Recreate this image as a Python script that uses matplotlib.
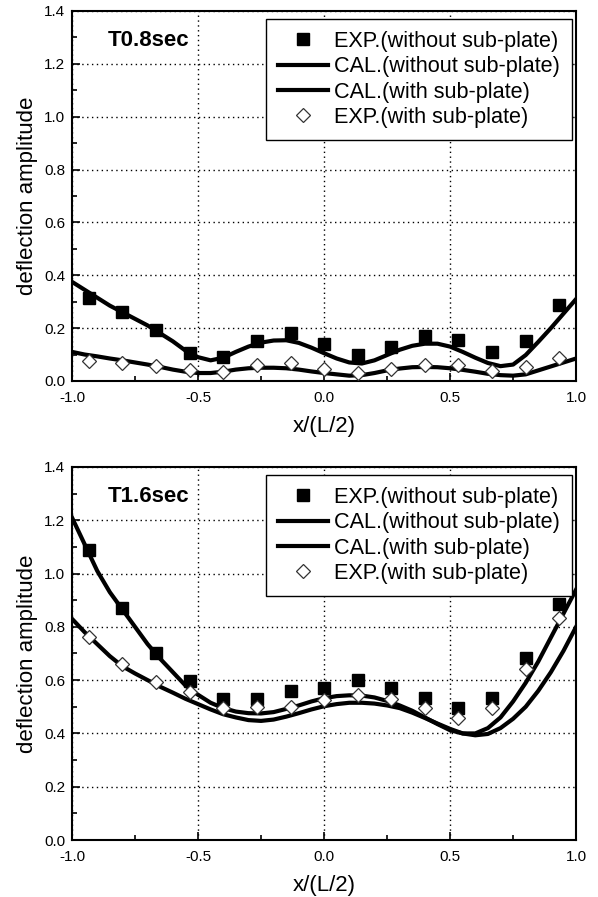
import matplotlib
matplotlib.use("Agg")
import matplotlib.pyplot as plt
from matplotlib.ticker import MultipleLocator, FixedLocator

plt.rcParams["font.family"] = ["Liberation Sans", "DejaVu Sans"]

# ---- data -------------------------------------------------------------
exp_x = [-0.933, -0.8, -0.667, -0.533, -0.4, -0.267, -0.133, 0.0,
         0.133, 0.267, 0.4, 0.533, 0.667, 0.8, 0.933]

cal_x = [-1.00, -0.95, -0.90, -0.85, -0.80, -0.75, -0.70, -0.65, -0.60,
         -0.55, -0.50, -0.45, -0.40, -0.35, -0.30, -0.25, -0.20, -0.15,
         -0.10, -0.05, 0.00, 0.05, 0.10, 0.15, 0.20, 0.25, 0.30, 0.35,
         0.40, 0.45, 0.50, 0.55, 0.60, 0.65, 0.70, 0.75, 0.80, 0.85,
         0.90, 0.95, 1.00]

# T = 0.8 sec
t08_exp_without = [0.312, 0.262, 0.194, 0.106, 0.091, 0.150, 0.181, 0.140,
                   0.100, 0.129, 0.171, 0.154, 0.109, 0.152, 0.287]
t08_exp_with = [0.075, 0.069, 0.056, 0.040, 0.035, 0.060, 0.069, 0.046,
                0.031, 0.044, 0.062, 0.060, 0.037, 0.054, 0.087]
t08_cal_without = [0.375, 0.345, 0.315, 0.285, 0.260, 0.235, 0.210, 0.180,
                   0.150, 0.115, 0.090, 0.078, 0.088, 0.110, 0.130, 0.145,
                   0.153, 0.154, 0.144, 0.126, 0.105, 0.085, 0.070, 0.066,
                   0.078, 0.098, 0.118, 0.133, 0.141, 0.141, 0.130, 0.110,
                   0.088, 0.068, 0.056, 0.062, 0.098, 0.148, 0.200, 0.255,
                   0.310]
t08_cal_with = [0.110, 0.100, 0.093, 0.085, 0.078, 0.070, 0.062, 0.053,
                0.043, 0.035, 0.030, 0.030, 0.035, 0.043, 0.048, 0.050,
                0.050, 0.048, 0.043, 0.036, 0.030, 0.025, 0.020, 0.022,
                0.030, 0.040, 0.047, 0.052, 0.053, 0.052, 0.048, 0.042,
                0.035, 0.027, 0.022, 0.020, 0.025, 0.040, 0.055, 0.070,
                0.085]

# T = 1.6 sec
t16_exp_without = [1.090, 0.871, 0.700, 0.598, 0.528, 0.528, 0.559, 0.569,
                   0.599, 0.571, 0.534, 0.496, 0.534, 0.684, 0.884]
t16_exp_with = [0.762, 0.659, 0.594, 0.555, 0.496, 0.499, 0.499, 0.525,
                0.546, 0.530, 0.496, 0.457, 0.496, 0.640, 0.834]
t16_cal_without = [1.210, 1.110, 1.010, 0.930, 0.865, 0.800, 0.735, 0.680,
                   0.630, 0.580, 0.545, 0.515, 0.495, 0.482, 0.476, 0.475,
                   0.480, 0.492, 0.505, 0.520, 0.532, 0.540, 0.543, 0.542,
                   0.535, 0.522, 0.505, 0.485, 0.460, 0.435, 0.412, 0.400,
                   0.400, 0.420, 0.460, 0.520, 0.590, 0.670, 0.760, 0.850,
                   0.940]
t16_cal_with = [0.830, 0.780, 0.735, 0.690, 0.652, 0.625, 0.600, 0.575,
                0.553, 0.530, 0.510, 0.490, 0.472, 0.460, 0.450, 0.447,
                0.452, 0.463, 0.476, 0.490, 0.502, 0.510, 0.515, 0.515,
                0.512, 0.505, 0.495, 0.478, 0.458, 0.437, 0.417, 0.400,
                0.393, 0.398, 0.420, 0.455, 0.500, 0.560, 0.630, 0.710,
                0.800]

x_ticks = [-1.0, -0.5, 0.0, 0.5, 1.0]
x_ticklabels = ["-1.0", "-0.5", "0.0", "0.5", "1.0"]
y_ticks = [0.0, 0.2, 0.4, 0.6, 0.8, 1.0, 1.2, 1.4]
y_ticklabels = ["0.0", "0.2", "0.4", "0.6", "0.8", "1.0", "1.2", "1.4"]

panels = [
    ("T0.8sec", t08_exp_without, t08_cal_without, t08_cal_with, t08_exp_with),
    ("T1.6sec", t16_exp_without, t16_cal_without, t16_cal_with, t16_exp_with),
]

# ---- figure -----------------------------------------------------------
fig = plt.figure(figsize=(5.98, 8.97), dpi=100)
ax_rects = [
    [0.1204, 0.5753, 0.843, 0.4125],
    [0.1204, 0.0635, 0.843, 0.4160],
]

for rect, (title, e_wo, c_wo, c_w, e_w) in zip(ax_rects, panels):
    ax = fig.add_axes(rect)

    ax.plot(exp_x, e_wo, linestyle="none", marker="s", markersize=8.5,
            color="black", label="EXP.(without sub-plate)", zorder=4)
    ax.plot(cal_x, c_wo, color="black", linewidth=3.0,
            label="CAL.(without sub-plate)", zorder=3)
    ax.plot(cal_x, c_w, color="black", linewidth=3.0,
            label="CAL.(with sub-plate)", zorder=3)
    ax.plot(exp_x, e_w, linestyle="none", marker="D", markersize=7.5,
            markerfacecolor="white", markeredgecolor="#333333",
            markeredgewidth=0.9, label="EXP.(with sub-plate)", zorder=5)

    ax.set_xlim(-1.0, 1.0)
    ax.set_ylim(0.0, 1.4)
    ax.xaxis.set_major_locator(FixedLocator(x_ticks))
    ax.set_xticklabels(x_ticklabels)
    ax.yaxis.set_major_locator(FixedLocator(y_ticks))
    ax.set_yticklabels(y_ticklabels)
    ax.xaxis.set_minor_locator(MultipleLocator(0.25))
    ax.yaxis.set_minor_locator(MultipleLocator(0.1))
    ax.tick_params(which="both", direction="in", top=False, right=False,
                   labelsize=11, width=1.2, colors="black")
    ax.tick_params(which="major", length=6)
    ax.tick_params(which="minor", length=3.5)
    ax.tick_params(axis="x", which="major", pad=7)
    ax.tick_params(axis="y", which="major", pad=5)

    ax.grid(True, which="major", color="black", linewidth=1.0,
            linestyle=(0, (1, 2.5)))
    ax.set_axisbelow(True)
    for sp in ax.spines.values():
        sp.set_linewidth(1.5)

    ax.set_xlabel("x/(L/2)", fontsize=16, labelpad=8)
    ax.set_ylabel("deflection amplitude", fontsize=16, labelpad=4)

    ax.text(0.07, 0.92, title, transform=ax.transAxes, fontsize=16,
            fontweight="bold", ha="left", va="center")

    leg = ax.legend(loc="upper right", bbox_to_anchor=(0.992, 0.978),
                    fontsize=15.6, frameon=True, fancybox=False,
                    edgecolor="black", framealpha=1.0, borderpad=0.55,
                    labelspacing=0.2, handlelength=2.3, handletextpad=0.3,
                    borderaxespad=0.0)
    leg.get_frame().set_linewidth(1.0)

fig.savefig("out.png", dpi=100)
